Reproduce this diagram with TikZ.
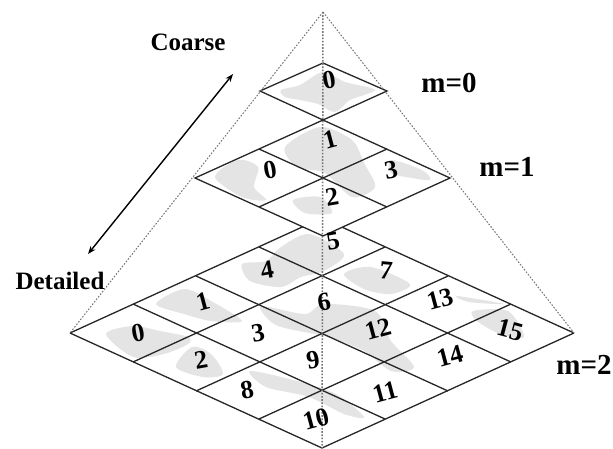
\documentclass[tikz,border=0pt]{standalone}
\usepackage{fontspec}
\setmainfont{Liberation Serif}
\usepackage{xcolor}
\usetikzlibrary{arrows.meta}
\definecolor{mapgray}{HTML}{E4E4E4}

\begin{document}
\begin{tikzpicture}[
  x=1pt,
  y=-1pt,
  cell/.style={draw=black!85, line width=1.3pt, line join=miter},
  guide/.style={draw=black!55, line width=1pt, dash pattern=on 1.6pt off 1.6pt},
  land/.style={fill=mapgray, draw=none},
  num/.style={font=\bfseries\fontsize{26}{26}\selectfont, inner sep=0pt},
  lab/.style={font=\bfseries\fontsize{25}{25}\selectfont, inner sep=0pt},
  lev/.style={font=\bfseries\fontsize{29}{29}\selectfont, inner sep=0pt}
]
\useasboundingbox (0,0) rectangle (613,448);

% Level m=2 map
\fill[land] plot[smooth cycle] coordinates {(281,247) (309,234) (344,254) (324,271) (301,277) (281,287) (250,281) (242,264) (266,261)};
\fill[land] plot[smooth cycle] coordinates {(344,274) (371,267) (410,284) (391,294) (364,289)};
\fill[land] plot[smooth cycle] coordinates {(262,306) (305,314) (324,304) (375,311) (391,341) (414,367) (391,371) (364,351) (328,337) (281,327) (266,317)};
\fill[land] plot[smooth cycle] coordinates {(156,304) (184,289) (211,301) (242,321) (211,321) (184,314)};
\fill[land] plot[smooth cycle] coordinates {(106,334) (133,326) (160,331) (188,337) (188,344) (164,354) (133,357)};
\fill[land] plot[smooth cycle] coordinates {(192,347) (211,354) (223,374) (203,377) (176,367)};
\fill[land] plot[smooth cycle] coordinates {(250,371) (297,381) (336,394) (364,417) (344,414) (309,397) (266,387)};
\fill[land] plot[smooth cycle] coordinates {(473,311) (508,311) (524,337) (500,334) (477,321)};
\fill[land] plot[smooth cycle] coordinates {(457,296) (504,304) (469,302)};

% Level m=2 grid
\draw[cell] (70,333) -- (322,218);
\draw[cell] (133,362) -- (385,247);
\draw[cell] (196,391) -- (448,276);
\draw[cell] (259,419) -- (511,304);
\draw[cell] (322,448) -- (574,333);
\draw[cell] (70,333) -- (322,448);
\draw[cell] (133,304) -- (385,419);
\draw[cell] (196,276) -- (448,391);
\draw[cell] (259,247) -- (511,362);
\draw[cell] (322,218) -- (574,333);

% Level m=1 map
\fill[white] (323,120) -- (450,178) -- (323,236) -- (195,178) -- cycle;
\fill[land] plot[smooth cycle] coordinates {(285,147) (320,127) (352,140) (364,163) (375,187) (352,197) (325,173) (297,167)};
\fill[land] plot[smooth cycle] coordinates {(215,177) (238,160) (258,167) (254,187) (266,200) (242,197)};
\fill[land] plot[smooth cycle] coordinates {(391,160) (422,170) (430,180) (406,177) (391,173)};
\fill[land] plot[smooth cycle] coordinates {(293,200) (320,197) (332,213) (305,213)};

% Level m=1 grid
\draw[cell] (195,178) -- (323,120) -- (450,178) -- (323,236) -- cycle;
\draw[cell] (259,149) -- (387,207);
\draw[cell] (387,149) -- (259,207);

% Level m=0 map and grid
\fill[white] (323,63) -- (387,91) -- (323,120) -- (260,91) -- cycle;
\fill[land] plot[smooth cycle] coordinates {(281,90) (300,85) (323,72) (345,82) (375,90) (350,100) (335,112) (318,104) (300,100) (285,97)};
\draw[cell] (260,91) -- (323,63) -- (387,91) -- (323,120) -- cycle;

% Pyramid guides
\coordinate (apex) at (323,12);
\coordinate (cornerL) at (70,333);
\coordinate (cornerR) at (574,333);
\coordinate (cornerB) at (322,448);
\draw[guide] (apex) -- (cornerL);
\draw[guide] (apex) -- (cornerR);
\draw[guide, line width=1.5pt] (apex) -- (cornerB);

% Numbers of m=0
\node[num, rotate=10] (a0) at (329,80) {0};

% Numbers of m=1
\node[num, rotate=15] (b1) at (330,140) {1};
\node[num, rotate=10] (b0) at (270,170) {0};
\node[num, rotate=10] (b3) at (391,170) {3};
\node[num, rotate=10] (b2) at (332,197) {2};

% Numbers of m=2
\node[num, rotate=10] (c5) at (333,241) {5};
\node[num, rotate=10] (c4) at (267,270) {4};
\node[num, rotate=-5] (c7) at (386,271) {7};
\node[num, rotate=15] (c1) at (203,302) {1};
\node[num, rotate=10] (c6) at (324,302) {6};
\node[num, rotate=15] (c13) at (440,299) {13};
\node[num, rotate=10] (c0) at (138,333) {0};
\node[num, rotate=10] (c3) at (258,333) {3};
\node[num, rotate=15] (c12) at (378,329) {12};
\node[num, rotate=-15] (c15) at (510,330) {15};
\node[num, rotate=10] (c2) at (201,360) {2};
\node[num, rotate=10] (c9) at (313,360) {9};
\node[num, rotate=15] (c14) at (450,356) {14};
\node[num, rotate=10] (c8) at (247,390) {8};
\node[num, rotate=15] (c11) at (385,392) {11};
\node[num, rotate=15] (c10) at (316,419) {10};

% Labels
\node[lab] (coarse) at (188,42) {Coarse};
\node[lab] (detailed) at (60,281) {Detailed};
\node[lev] (m0) at (449,83) {m=0};
\node[lev] (m1) at (507,167) {m=1};
\node[lev] (m2) at (584,365) {m=2};

% Arrow
\coordinate (up) at (233,74);
\coordinate (down) at (88,254);
\draw[{Stealth[length=8pt]}-{Stealth[length=8pt]}, line width=1.4pt] (down) -- (up);

\end{tikzpicture}
\end{document}
